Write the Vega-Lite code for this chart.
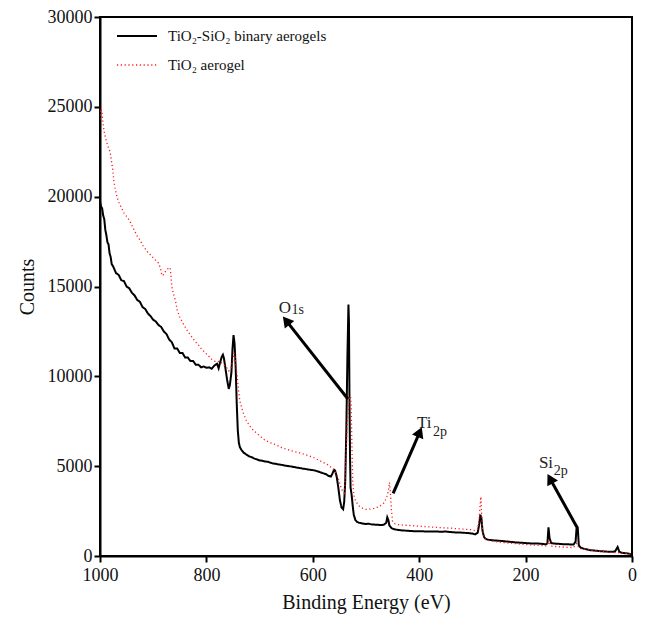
{
  "$schema": "https://vega.github.io/schema/vega-lite/v6.json",
  "autosize": {"type": "none"},
  "width": 532,
  "height": 539,
  "padding": {"left": 100, "top": 17, "right": 17, "bottom": 65},
  "background": "white",
  "config": {
    "view": {"stroke": "black", "strokeWidth": 2},
    "font": "Liberation Serif",
    "style": {"guide-label": {"font": "Liberation Serif"}, "guide-title": {"font": "Liberation Serif"}},
    "axis": {
      "grid": false,
      "domainColor": "black",
      "domainWidth": 2,
      "tickColor": "black",
      "tickWidth": 2,
      "tickSize": 6,
      "labelFlush": false,
      "labelFont": "Liberation Serif",
      "labelFontSize": 18,
      "labelColor": "#111",
      "titleFont": "Liberation Serif",
      "titleFontSize": 20,
      "titleFontWeight": "normal",
      "titleColor": "#111"
    }
  },
  "datasets": {
    "spectra": [
      {"energy": 1000, "counts": 19700, "series": "TiO₂-SiO₂ binary aerogels"},
      {"energy": 998, "counts": 19450, "series": "TiO₂-SiO₂ binary aerogels"},
      {"energy": 996, "counts": 19350, "series": "TiO₂-SiO₂ binary aerogels"},
      {"energy": 994, "counts": 18950, "series": "TiO₂-SiO₂ binary aerogels"},
      {"energy": 992, "counts": 18750, "series": "TiO₂-SiO₂ binary aerogels"},
      {"energy": 990, "counts": 18150, "series": "TiO₂-SiO₂ binary aerogels"},
      {"energy": 988, "counts": 17850, "series": "TiO₂-SiO₂ binary aerogels"},
      {"energy": 986, "counts": 17450, "series": "TiO₂-SiO₂ binary aerogels"},
      {"energy": 984, "counts": 17350, "series": "TiO₂-SiO₂ binary aerogels"},
      {"energy": 982, "counts": 16850, "series": "TiO₂-SiO₂ binary aerogels"},
      {"energy": 980, "counts": 16650, "series": "TiO₂-SiO₂ binary aerogels"},
      {"energy": 978, "counts": 16250, "series": "TiO₂-SiO₂ binary aerogels"},
      {"energy": 975, "counts": 16100, "series": "TiO₂-SiO₂ binary aerogels"},
      {"energy": 970, "counts": 15750, "series": "TiO₂-SiO₂ binary aerogels"},
      {"energy": 965, "counts": 15650, "series": "TiO₂-SiO₂ binary aerogels"},
      {"energy": 960, "counts": 15350, "series": "TiO₂-SiO₂ binary aerogels"},
      {"energy": 955, "counts": 15300, "series": "TiO₂-SiO₂ binary aerogels"},
      {"energy": 950, "counts": 15000, "series": "TiO₂-SiO₂ binary aerogels"},
      {"energy": 945, "counts": 14900, "series": "TiO₂-SiO₂ binary aerogels"},
      {"energy": 940, "counts": 14650, "series": "TiO₂-SiO₂ binary aerogels"},
      {"energy": 935, "counts": 14500, "series": "TiO₂-SiO₂ binary aerogels"},
      {"energy": 930, "counts": 14250, "series": "TiO₂-SiO₂ binary aerogels"},
      {"energy": 925, "counts": 14150, "series": "TiO₂-SiO₂ binary aerogels"},
      {"energy": 920, "counts": 13850, "series": "TiO₂-SiO₂ binary aerogels"},
      {"energy": 915, "counts": 13750, "series": "TiO₂-SiO₂ binary aerogels"},
      {"energy": 910, "counts": 13500, "series": "TiO₂-SiO₂ binary aerogels"},
      {"energy": 905, "counts": 13350, "series": "TiO₂-SiO₂ binary aerogels"},
      {"energy": 900, "counts": 13150, "series": "TiO₂-SiO₂ binary aerogels"},
      {"energy": 895, "counts": 13050, "series": "TiO₂-SiO₂ binary aerogels"},
      {"energy": 890, "counts": 12850, "series": "TiO₂-SiO₂ binary aerogels"},
      {"energy": 885, "counts": 12750, "series": "TiO₂-SiO₂ binary aerogels"},
      {"energy": 880, "counts": 12500, "series": "TiO₂-SiO₂ binary aerogels"},
      {"energy": 875, "counts": 12350, "series": "TiO₂-SiO₂ binary aerogels"},
      {"energy": 870, "counts": 12050, "series": "TiO₂-SiO₂ binary aerogels"},
      {"energy": 865, "counts": 11900, "series": "TiO₂-SiO₂ binary aerogels"},
      {"energy": 860, "counts": 11550, "series": "TiO₂-SiO₂ binary aerogels"},
      {"energy": 855, "counts": 11550, "series": "TiO₂-SiO₂ binary aerogels"},
      {"energy": 850, "counts": 11300, "series": "TiO₂-SiO₂ binary aerogels"},
      {"energy": 845, "counts": 11300, "series": "TiO₂-SiO₂ binary aerogels"},
      {"energy": 840, "counts": 11050, "series": "TiO₂-SiO₂ binary aerogels"},
      {"energy": 835, "counts": 11050, "series": "TiO₂-SiO₂ binary aerogels"},
      {"energy": 830, "counts": 10850, "series": "TiO₂-SiO₂ binary aerogels"},
      {"energy": 825, "counts": 10850, "series": "TiO₂-SiO₂ binary aerogels"},
      {"energy": 820, "counts": 10650, "series": "TiO₂-SiO₂ binary aerogels"},
      {"energy": 815, "counts": 10650, "series": "TiO₂-SiO₂ binary aerogels"},
      {"energy": 810, "counts": 10500, "series": "TiO₂-SiO₂ binary aerogels"},
      {"energy": 805, "counts": 10550, "series": "TiO₂-SiO₂ binary aerogels"},
      {"energy": 800, "counts": 10480, "series": "TiO₂-SiO₂ binary aerogels"},
      {"energy": 795, "counts": 10500, "series": "TiO₂-SiO₂ binary aerogels"},
      {"energy": 790, "counts": 10420, "series": "TiO₂-SiO₂ binary aerogels"},
      {"energy": 785, "counts": 10600, "series": "TiO₂-SiO₂ binary aerogels"},
      {"energy": 780, "counts": 10700, "series": "TiO₂-SiO₂ binary aerogels"},
      {"energy": 777, "counts": 10450, "series": "TiO₂-SiO₂ binary aerogels"},
      {"energy": 774, "counts": 10800, "series": "TiO₂-SiO₂ binary aerogels"},
      {"energy": 771, "counts": 11100, "series": "TiO₂-SiO₂ binary aerogels"},
      {"energy": 769, "counts": 11200, "series": "TiO₂-SiO₂ binary aerogels"},
      {"energy": 767, "counts": 11000, "series": "TiO₂-SiO₂ binary aerogels"},
      {"energy": 764, "counts": 10400, "series": "TiO₂-SiO₂ binary aerogels"},
      {"energy": 761, "counts": 9800, "series": "TiO₂-SiO₂ binary aerogels"},
      {"energy": 758, "counts": 9300, "series": "TiO₂-SiO₂ binary aerogels"},
      {"energy": 756, "counts": 9500, "series": "TiO₂-SiO₂ binary aerogels"},
      {"energy": 753, "counts": 10200, "series": "TiO₂-SiO₂ binary aerogels"},
      {"energy": 751, "counts": 11500, "series": "TiO₂-SiO₂ binary aerogels"},
      {"energy": 749, "counts": 12300, "series": "TiO₂-SiO₂ binary aerogels"},
      {"energy": 747, "counts": 11800, "series": "TiO₂-SiO₂ binary aerogels"},
      {"energy": 745, "counts": 10500, "series": "TiO₂-SiO₂ binary aerogels"},
      {"energy": 743, "counts": 8500, "series": "TiO₂-SiO₂ binary aerogels"},
      {"energy": 741, "counts": 7000, "series": "TiO₂-SiO₂ binary aerogels"},
      {"energy": 739, "counts": 6300, "series": "TiO₂-SiO₂ binary aerogels"},
      {"energy": 737, "counts": 6050, "series": "TiO₂-SiO₂ binary aerogels"},
      {"energy": 734, "counts": 5900, "series": "TiO₂-SiO₂ binary aerogels"},
      {"energy": 730, "counts": 5750, "series": "TiO₂-SiO₂ binary aerogels"},
      {"energy": 725, "counts": 5650, "series": "TiO₂-SiO₂ binary aerogels"},
      {"energy": 720, "counts": 5550, "series": "TiO₂-SiO₂ binary aerogels"},
      {"energy": 715, "counts": 5500, "series": "TiO₂-SiO₂ binary aerogels"},
      {"energy": 710, "counts": 5420, "series": "TiO₂-SiO₂ binary aerogels"},
      {"energy": 705, "counts": 5380, "series": "TiO₂-SiO₂ binary aerogels"},
      {"energy": 700, "counts": 5320, "series": "TiO₂-SiO₂ binary aerogels"},
      {"energy": 695, "counts": 5300, "series": "TiO₂-SiO₂ binary aerogels"},
      {"energy": 690, "counts": 5260, "series": "TiO₂-SiO₂ binary aerogels"},
      {"energy": 685, "counts": 5250, "series": "TiO₂-SiO₂ binary aerogels"},
      {"energy": 680, "counts": 5200, "series": "TiO₂-SiO₂ binary aerogels"},
      {"energy": 675, "counts": 5150, "series": "TiO₂-SiO₂ binary aerogels"},
      {"energy": 670, "counts": 5130, "series": "TiO₂-SiO₂ binary aerogels"},
      {"energy": 665, "counts": 5100, "series": "TiO₂-SiO₂ binary aerogels"},
      {"energy": 660, "counts": 5080, "series": "TiO₂-SiO₂ binary aerogels"},
      {"energy": 655, "counts": 5050, "series": "TiO₂-SiO₂ binary aerogels"},
      {"energy": 650, "counts": 5020, "series": "TiO₂-SiO₂ binary aerogels"},
      {"energy": 645, "counts": 5000, "series": "TiO₂-SiO₂ binary aerogels"},
      {"energy": 640, "counts": 4980, "series": "TiO₂-SiO₂ binary aerogels"},
      {"energy": 635, "counts": 4950, "series": "TiO₂-SiO₂ binary aerogels"},
      {"energy": 630, "counts": 4920, "series": "TiO₂-SiO₂ binary aerogels"},
      {"energy": 625, "counts": 4900, "series": "TiO₂-SiO₂ binary aerogels"},
      {"energy": 620, "counts": 4870, "series": "TiO₂-SiO₂ binary aerogels"},
      {"energy": 615, "counts": 4850, "series": "TiO₂-SiO₂ binary aerogels"},
      {"energy": 610, "counts": 4820, "series": "TiO₂-SiO₂ binary aerogels"},
      {"energy": 605, "counts": 4800, "series": "TiO₂-SiO₂ binary aerogels"},
      {"energy": 600, "counts": 4780, "series": "TiO₂-SiO₂ binary aerogels"},
      {"energy": 595, "counts": 4750, "series": "TiO₂-SiO₂ binary aerogels"},
      {"energy": 590, "counts": 4700, "series": "TiO₂-SiO₂ binary aerogels"},
      {"energy": 585, "counts": 4650, "series": "TiO₂-SiO₂ binary aerogels"},
      {"energy": 580, "counts": 4600, "series": "TiO₂-SiO₂ binary aerogels"},
      {"energy": 575, "counts": 4550, "series": "TiO₂-SiO₂ binary aerogels"},
      {"energy": 570, "counts": 4450, "series": "TiO₂-SiO₂ binary aerogels"},
      {"energy": 566, "counts": 4420, "series": "TiO₂-SiO₂ binary aerogels"},
      {"energy": 563, "counts": 4600, "series": "TiO₂-SiO₂ binary aerogels"},
      {"energy": 560, "counts": 4800, "series": "TiO₂-SiO₂ binary aerogels"},
      {"energy": 558, "counts": 4750, "series": "TiO₂-SiO₂ binary aerogels"},
      {"energy": 555, "counts": 4400, "series": "TiO₂-SiO₂ binary aerogels"},
      {"energy": 552, "counts": 3800, "series": "TiO₂-SiO₂ binary aerogels"},
      {"energy": 549, "counts": 3100, "series": "TiO₂-SiO₂ binary aerogels"},
      {"energy": 546, "counts": 2700, "series": "TiO₂-SiO₂ binary aerogels"},
      {"energy": 543, "counts": 2600, "series": "TiO₂-SiO₂ binary aerogels"},
      {"energy": 541, "counts": 3000, "series": "TiO₂-SiO₂ binary aerogels"},
      {"energy": 539, "counts": 4200, "series": "TiO₂-SiO₂ binary aerogels"},
      {"energy": 537, "counts": 7000, "series": "TiO₂-SiO₂ binary aerogels"},
      {"energy": 535, "counts": 11000, "series": "TiO₂-SiO₂ binary aerogels"},
      {"energy": 533, "counts": 14000, "series": "TiO₂-SiO₂ binary aerogels"},
      {"energy": 532, "counts": 13000, "series": "TiO₂-SiO₂ binary aerogels"},
      {"energy": 531, "counts": 8500, "series": "TiO₂-SiO₂ binary aerogels"},
      {"energy": 530, "counts": 5500, "series": "TiO₂-SiO₂ binary aerogels"},
      {"energy": 529, "counts": 3800, "series": "TiO₂-SiO₂ binary aerogels"},
      {"energy": 527, "counts": 3400, "series": "TiO₂-SiO₂ binary aerogels"},
      {"energy": 525, "counts": 2800, "series": "TiO₂-SiO₂ binary aerogels"},
      {"energy": 523, "counts": 2300, "series": "TiO₂-SiO₂ binary aerogels"},
      {"energy": 520, "counts": 2000, "series": "TiO₂-SiO₂ binary aerogels"},
      {"energy": 517, "counts": 1900, "series": "TiO₂-SiO₂ binary aerogels"},
      {"energy": 513, "counts": 1850, "series": "TiO₂-SiO₂ binary aerogels"},
      {"energy": 505, "counts": 1800, "series": "TiO₂-SiO₂ binary aerogels"},
      {"energy": 500, "counts": 1780, "series": "TiO₂-SiO₂ binary aerogels"},
      {"energy": 495, "counts": 1800, "series": "TiO₂-SiO₂ binary aerogels"},
      {"energy": 490, "counts": 1760, "series": "TiO₂-SiO₂ binary aerogels"},
      {"energy": 485, "counts": 1750, "series": "TiO₂-SiO₂ binary aerogels"},
      {"energy": 480, "counts": 1740, "series": "TiO₂-SiO₂ binary aerogels"},
      {"energy": 475, "counts": 1730, "series": "TiO₂-SiO₂ binary aerogels"},
      {"energy": 470, "counts": 1720, "series": "TiO₂-SiO₂ binary aerogels"},
      {"energy": 466, "counts": 1750, "series": "TiO₂-SiO₂ binary aerogels"},
      {"energy": 462, "counts": 1850, "series": "TiO₂-SiO₂ binary aerogels"},
      {"energy": 460, "counts": 2150, "series": "TiO₂-SiO₂ binary aerogels"},
      {"energy": 458, "counts": 2000, "series": "TiO₂-SiO₂ binary aerogels"},
      {"energy": 456, "counts": 1700, "series": "TiO₂-SiO₂ binary aerogels"},
      {"energy": 452, "counts": 1550, "series": "TiO₂-SiO₂ binary aerogels"},
      {"energy": 448, "counts": 1500, "series": "TiO₂-SiO₂ binary aerogels"},
      {"energy": 440, "counts": 1450, "series": "TiO₂-SiO₂ binary aerogels"},
      {"energy": 430, "counts": 1420, "series": "TiO₂-SiO₂ binary aerogels"},
      {"energy": 420, "counts": 1400, "series": "TiO₂-SiO₂ binary aerogels"},
      {"energy": 410, "counts": 1380, "series": "TiO₂-SiO₂ binary aerogels"},
      {"energy": 400, "counts": 1380, "series": "TiO₂-SiO₂ binary aerogels"},
      {"energy": 390, "counts": 1370, "series": "TiO₂-SiO₂ binary aerogels"},
      {"energy": 380, "counts": 1360, "series": "TiO₂-SiO₂ binary aerogels"},
      {"energy": 370, "counts": 1370, "series": "TiO₂-SiO₂ binary aerogels"},
      {"energy": 360, "counts": 1350, "series": "TiO₂-SiO₂ binary aerogels"},
      {"energy": 350, "counts": 1360, "series": "TiO₂-SiO₂ binary aerogels"},
      {"energy": 340, "counts": 1330, "series": "TiO₂-SiO₂ binary aerogels"},
      {"energy": 330, "counts": 1310, "series": "TiO₂-SiO₂ binary aerogels"},
      {"energy": 320, "counts": 1300, "series": "TiO₂-SiO₂ binary aerogels"},
      {"energy": 310, "counts": 1280, "series": "TiO₂-SiO₂ binary aerogels"},
      {"energy": 300, "counts": 1250, "series": "TiO₂-SiO₂ binary aerogels"},
      {"energy": 295, "counts": 1200, "series": "TiO₂-SiO₂ binary aerogels"},
      {"energy": 290, "counts": 1300, "series": "TiO₂-SiO₂ binary aerogels"},
      {"energy": 287, "counts": 1800, "series": "TiO₂-SiO₂ binary aerogels"},
      {"energy": 285, "counts": 2300, "series": "TiO₂-SiO₂ binary aerogels"},
      {"energy": 283, "counts": 2100, "series": "TiO₂-SiO₂ binary aerogels"},
      {"energy": 281, "counts": 1400, "series": "TiO₂-SiO₂ binary aerogels"},
      {"energy": 278, "counts": 1050, "series": "TiO₂-SiO₂ binary aerogels"},
      {"energy": 275, "counts": 950, "series": "TiO₂-SiO₂ binary aerogels"},
      {"energy": 270, "counts": 900, "series": "TiO₂-SiO₂ binary aerogels"},
      {"energy": 260, "counts": 870, "series": "TiO₂-SiO₂ binary aerogels"},
      {"energy": 250, "counts": 850, "series": "TiO₂-SiO₂ binary aerogels"},
      {"energy": 240, "counts": 820, "series": "TiO₂-SiO₂ binary aerogels"},
      {"energy": 230, "counts": 790, "series": "TiO₂-SiO₂ binary aerogels"},
      {"energy": 220, "counts": 760, "series": "TiO₂-SiO₂ binary aerogels"},
      {"energy": 210, "counts": 740, "series": "TiO₂-SiO₂ binary aerogels"},
      {"energy": 200, "counts": 720, "series": "TiO₂-SiO₂ binary aerogels"},
      {"energy": 190, "counts": 700, "series": "TiO₂-SiO₂ binary aerogels"},
      {"energy": 180, "counts": 700, "series": "TiO₂-SiO₂ binary aerogels"},
      {"energy": 170, "counts": 680, "series": "TiO₂-SiO₂ binary aerogels"},
      {"energy": 162, "counts": 650, "series": "TiO₂-SiO₂ binary aerogels"},
      {"energy": 159, "counts": 700, "series": "TiO₂-SiO₂ binary aerogels"},
      {"energy": 157, "counts": 1600, "series": "TiO₂-SiO₂ binary aerogels"},
      {"energy": 155, "counts": 1000, "series": "TiO₂-SiO₂ binary aerogels"},
      {"energy": 152, "counts": 720, "series": "TiO₂-SiO₂ binary aerogels"},
      {"energy": 148, "counts": 700, "series": "TiO₂-SiO₂ binary aerogels"},
      {"energy": 140, "counts": 680, "series": "TiO₂-SiO₂ binary aerogels"},
      {"energy": 130, "counts": 660, "series": "TiO₂-SiO₂ binary aerogels"},
      {"energy": 120, "counts": 650, "series": "TiO₂-SiO₂ binary aerogels"},
      {"energy": 110, "counts": 640, "series": "TiO₂-SiO₂ binary aerogels"},
      {"energy": 106, "counts": 800, "series": "TiO₂-SiO₂ binary aerogels"},
      {"energy": 104, "counts": 1650, "series": "TiO₂-SiO₂ binary aerogels"},
      {"energy": 102, "counts": 1600, "series": "TiO₂-SiO₂ binary aerogels"},
      {"energy": 100, "counts": 600, "series": "TiO₂-SiO₂ binary aerogels"},
      {"energy": 96, "counts": 450, "series": "TiO₂-SiO₂ binary aerogels"},
      {"energy": 90, "counts": 400, "series": "TiO₂-SiO₂ binary aerogels"},
      {"energy": 80, "counts": 330, "series": "TiO₂-SiO₂ binary aerogels"},
      {"energy": 70, "counts": 300, "series": "TiO₂-SiO₂ binary aerogels"},
      {"energy": 60, "counts": 270, "series": "TiO₂-SiO₂ binary aerogels"},
      {"energy": 50, "counts": 250, "series": "TiO₂-SiO₂ binary aerogels"},
      {"energy": 40, "counts": 230, "series": "TiO₂-SiO₂ binary aerogels"},
      {"energy": 32, "counts": 250, "series": "TiO₂-SiO₂ binary aerogels"},
      {"energy": 29, "counts": 400, "series": "TiO₂-SiO₂ binary aerogels"},
      {"energy": 27, "counts": 500, "series": "TiO₂-SiO₂ binary aerogels"},
      {"energy": 24, "counts": 250, "series": "TiO₂-SiO₂ binary aerogels"},
      {"energy": 20, "counts": 180, "series": "TiO₂-SiO₂ binary aerogels"},
      {"energy": 10, "counts": 150, "series": "TiO₂-SiO₂ binary aerogels"},
      {"energy": 0, "counts": 100, "series": "TiO₂-SiO₂ binary aerogels"},

      {"energy": 1000, "counts": 24300, "series": "TiO₂ aerogel"},
      {"energy": 998, "counts": 24900, "series": "TiO₂ aerogel"},
      {"energy": 996, "counts": 24600, "series": "TiO₂ aerogel"},
      {"energy": 994, "counts": 24000, "series": "TiO₂ aerogel"},
      {"energy": 992, "counts": 23600, "series": "TiO₂ aerogel"},
      {"energy": 990, "counts": 23300, "series": "TiO₂ aerogel"},
      {"energy": 987, "counts": 23000, "series": "TiO₂ aerogel"},
      {"energy": 984, "counts": 22700, "series": "TiO₂ aerogel"},
      {"energy": 981, "counts": 22500, "series": "TiO₂ aerogel"},
      {"energy": 978, "counts": 21900, "series": "TiO₂ aerogel"},
      {"energy": 976, "counts": 21500, "series": "TiO₂ aerogel"},
      {"energy": 974, "counts": 20900, "series": "TiO₂ aerogel"},
      {"energy": 972, "counts": 20500, "series": "TiO₂ aerogel"},
      {"energy": 969, "counts": 20100, "series": "TiO₂ aerogel"},
      {"energy": 965, "counts": 19700, "series": "TiO₂ aerogel"},
      {"energy": 960, "counts": 19400, "series": "TiO₂ aerogel"},
      {"energy": 955, "counts": 19100, "series": "TiO₂ aerogel"},
      {"energy": 950, "counts": 18900, "series": "TiO₂ aerogel"},
      {"energy": 945, "counts": 18700, "series": "TiO₂ aerogel"},
      {"energy": 940, "counts": 18400, "series": "TiO₂ aerogel"},
      {"energy": 935, "counts": 18100, "series": "TiO₂ aerogel"},
      {"energy": 930, "counts": 17800, "series": "TiO₂ aerogel"},
      {"energy": 925, "counts": 17600, "series": "TiO₂ aerogel"},
      {"energy": 920, "counts": 17300, "series": "TiO₂ aerogel"},
      {"energy": 915, "counts": 17100, "series": "TiO₂ aerogel"},
      {"energy": 910, "counts": 16900, "series": "TiO₂ aerogel"},
      {"energy": 905, "counts": 16750, "series": "TiO₂ aerogel"},
      {"energy": 900, "counts": 16600, "series": "TiO₂ aerogel"},
      {"energy": 895, "counts": 16450, "series": "TiO₂ aerogel"},
      {"energy": 890, "counts": 16300, "series": "TiO₂ aerogel"},
      {"energy": 886, "counts": 16000, "series": "TiO₂ aerogel"},
      {"energy": 884, "counts": 15650, "series": "TiO₂ aerogel"},
      {"energy": 882, "counts": 15600, "series": "TiO₂ aerogel"},
      {"energy": 878, "counts": 15800, "series": "TiO₂ aerogel"},
      {"energy": 872, "counts": 16000, "series": "TiO₂ aerogel"},
      {"energy": 868, "counts": 16050, "series": "TiO₂ aerogel"},
      {"energy": 865, "counts": 15000, "series": "TiO₂ aerogel"},
      {"energy": 862, "counts": 14600, "series": "TiO₂ aerogel"},
      {"energy": 858, "counts": 14200, "series": "TiO₂ aerogel"},
      {"energy": 855, "counts": 13700, "series": "TiO₂ aerogel"},
      {"energy": 850, "counts": 13300, "series": "TiO₂ aerogel"},
      {"energy": 845, "counts": 13000, "series": "TiO₂ aerogel"},
      {"energy": 840, "counts": 12750, "series": "TiO₂ aerogel"},
      {"energy": 835, "counts": 12500, "series": "TiO₂ aerogel"},
      {"energy": 830, "counts": 12300, "series": "TiO₂ aerogel"},
      {"energy": 825, "counts": 12100, "series": "TiO₂ aerogel"},
      {"energy": 820, "counts": 11900, "series": "TiO₂ aerogel"},
      {"energy": 815, "counts": 11750, "series": "TiO₂ aerogel"},
      {"energy": 810, "counts": 11550, "series": "TiO₂ aerogel"},
      {"energy": 805, "counts": 11400, "series": "TiO₂ aerogel"},
      {"energy": 800, "counts": 11250, "series": "TiO₂ aerogel"},
      {"energy": 795, "counts": 11100, "series": "TiO₂ aerogel"},
      {"energy": 790, "counts": 10950, "series": "TiO₂ aerogel"},
      {"energy": 785, "counts": 10850, "series": "TiO₂ aerogel"},
      {"energy": 780, "counts": 10800, "series": "TiO₂ aerogel"},
      {"energy": 775, "counts": 10850, "series": "TiO₂ aerogel"},
      {"energy": 770, "counts": 10700, "series": "TiO₂ aerogel"},
      {"energy": 766, "counts": 10600, "series": "TiO₂ aerogel"},
      {"energy": 762, "counts": 10500, "series": "TiO₂ aerogel"},
      {"energy": 758, "counts": 10300, "series": "TiO₂ aerogel"},
      {"energy": 754, "counts": 10450, "series": "TiO₂ aerogel"},
      {"energy": 751, "counts": 10800, "series": "TiO₂ aerogel"},
      {"energy": 748, "counts": 11300, "series": "TiO₂ aerogel"},
      {"energy": 746, "counts": 11050, "series": "TiO₂ aerogel"},
      {"energy": 744, "counts": 10500, "series": "TiO₂ aerogel"},
      {"energy": 742, "counts": 10000, "series": "TiO₂ aerogel"},
      {"energy": 740, "counts": 9300, "series": "TiO₂ aerogel"},
      {"energy": 737, "counts": 8600, "series": "TiO₂ aerogel"},
      {"energy": 734, "counts": 8300, "series": "TiO₂ aerogel"},
      {"energy": 730, "counts": 7900, "series": "TiO₂ aerogel"},
      {"energy": 725, "counts": 7550, "series": "TiO₂ aerogel"},
      {"energy": 720, "counts": 7300, "series": "TiO₂ aerogel"},
      {"energy": 715, "counts": 7100, "series": "TiO₂ aerogel"},
      {"energy": 710, "counts": 6950, "series": "TiO₂ aerogel"},
      {"energy": 700, "counts": 6700, "series": "TiO₂ aerogel"},
      {"energy": 690, "counts": 6450, "series": "TiO₂ aerogel"},
      {"energy": 680, "counts": 6300, "series": "TiO₂ aerogel"},
      {"energy": 670, "counts": 6200, "series": "TiO₂ aerogel"},
      {"energy": 660, "counts": 6050, "series": "TiO₂ aerogel"},
      {"energy": 650, "counts": 5950, "series": "TiO₂ aerogel"},
      {"energy": 640, "counts": 5850, "series": "TiO₂ aerogel"},
      {"energy": 630, "counts": 5780, "series": "TiO₂ aerogel"},
      {"energy": 620, "counts": 5700, "series": "TiO₂ aerogel"},
      {"energy": 610, "counts": 5600, "series": "TiO₂ aerogel"},
      {"energy": 600, "counts": 5500, "series": "TiO₂ aerogel"},
      {"energy": 590, "counts": 5350, "series": "TiO₂ aerogel"},
      {"energy": 580, "counts": 5200, "series": "TiO₂ aerogel"},
      {"energy": 570, "counts": 5050, "series": "TiO₂ aerogel"},
      {"energy": 563, "counts": 4850, "series": "TiO₂ aerogel"},
      {"energy": 560, "counts": 4800, "series": "TiO₂ aerogel"},
      {"energy": 556, "counts": 4600, "series": "TiO₂ aerogel"},
      {"energy": 552, "counts": 4300, "series": "TiO₂ aerogel"},
      {"energy": 548, "counts": 3900, "series": "TiO₂ aerogel"},
      {"energy": 544, "counts": 3600, "series": "TiO₂ aerogel"},
      {"energy": 541, "counts": 3500, "series": "TiO₂ aerogel"},
      {"energy": 539, "counts": 4200, "series": "TiO₂ aerogel"},
      {"energy": 537, "counts": 6000, "series": "TiO₂ aerogel"},
      {"energy": 535, "counts": 7500, "series": "TiO₂ aerogel"},
      {"energy": 533, "counts": 8200, "series": "TiO₂ aerogel"},
      {"energy": 531, "counts": 8800, "series": "TiO₂ aerogel"},
      {"energy": 529, "counts": 8900, "series": "TiO₂ aerogel"},
      {"energy": 528, "counts": 8500, "series": "TiO₂ aerogel"},
      {"energy": 527, "counts": 7000, "series": "TiO₂ aerogel"},
      {"energy": 526, "counts": 5500, "series": "TiO₂ aerogel"},
      {"energy": 525, "counts": 4200, "series": "TiO₂ aerogel"},
      {"energy": 523, "counts": 3400, "series": "TiO₂ aerogel"},
      {"energy": 520, "counts": 3100, "series": "TiO₂ aerogel"},
      {"energy": 515, "counts": 2850, "series": "TiO₂ aerogel"},
      {"energy": 510, "counts": 2700, "series": "TiO₂ aerogel"},
      {"energy": 505, "counts": 2650, "series": "TiO₂ aerogel"},
      {"energy": 500, "counts": 2600, "series": "TiO₂ aerogel"},
      {"energy": 495, "counts": 2600, "series": "TiO₂ aerogel"},
      {"energy": 490, "counts": 2620, "series": "TiO₂ aerogel"},
      {"energy": 485, "counts": 2650, "series": "TiO₂ aerogel"},
      {"energy": 480, "counts": 2700, "series": "TiO₂ aerogel"},
      {"energy": 475, "counts": 2750, "series": "TiO₂ aerogel"},
      {"energy": 470, "counts": 2850, "series": "TiO₂ aerogel"},
      {"energy": 465, "counts": 3000, "series": "TiO₂ aerogel"},
      {"energy": 461, "counts": 3300, "series": "TiO₂ aerogel"},
      {"energy": 458, "counts": 3600, "series": "TiO₂ aerogel"},
      {"energy": 456, "counts": 4100, "series": "TiO₂ aerogel"},
      {"energy": 454, "counts": 3500, "series": "TiO₂ aerogel"},
      {"energy": 452, "counts": 2500, "series": "TiO₂ aerogel"},
      {"energy": 450, "counts": 1900, "series": "TiO₂ aerogel"},
      {"energy": 446, "counts": 1800, "series": "TiO₂ aerogel"},
      {"energy": 440, "counts": 1750, "series": "TiO₂ aerogel"},
      {"energy": 430, "counts": 1720, "series": "TiO₂ aerogel"},
      {"energy": 420, "counts": 1700, "series": "TiO₂ aerogel"},
      {"energy": 410, "counts": 1680, "series": "TiO₂ aerogel"},
      {"energy": 400, "counts": 1660, "series": "TiO₂ aerogel"},
      {"energy": 390, "counts": 1640, "series": "TiO₂ aerogel"},
      {"energy": 380, "counts": 1620, "series": "TiO₂ aerogel"},
      {"energy": 370, "counts": 1600, "series": "TiO₂ aerogel"},
      {"energy": 360, "counts": 1580, "series": "TiO₂ aerogel"},
      {"energy": 350, "counts": 1560, "series": "TiO₂ aerogel"},
      {"energy": 340, "counts": 1550, "series": "TiO₂ aerogel"},
      {"energy": 330, "counts": 1520, "series": "TiO₂ aerogel"},
      {"energy": 320, "counts": 1500, "series": "TiO₂ aerogel"},
      {"energy": 310, "counts": 1480, "series": "TiO₂ aerogel"},
      {"energy": 300, "counts": 1460, "series": "TiO₂ aerogel"},
      {"energy": 295, "counts": 1400, "series": "TiO₂ aerogel"},
      {"energy": 290, "counts": 1500, "series": "TiO₂ aerogel"},
      {"energy": 287, "counts": 2200, "series": "TiO₂ aerogel"},
      {"energy": 285, "counts": 3000, "series": "TiO₂ aerogel"},
      {"energy": 284, "counts": 3300, "series": "TiO₂ aerogel"},
      {"energy": 283, "counts": 2500, "series": "TiO₂ aerogel"},
      {"energy": 281, "counts": 1500, "series": "TiO₂ aerogel"},
      {"energy": 278, "counts": 1050, "series": "TiO₂ aerogel"},
      {"energy": 275, "counts": 920, "series": "TiO₂ aerogel"},
      {"energy": 270, "counts": 870, "series": "TiO₂ aerogel"},
      {"energy": 260, "counts": 820, "series": "TiO₂ aerogel"},
      {"energy": 250, "counts": 780, "series": "TiO₂ aerogel"},
      {"energy": 240, "counts": 740, "series": "TiO₂ aerogel"},
      {"energy": 230, "counts": 720, "series": "TiO₂ aerogel"},
      {"energy": 220, "counts": 690, "series": "TiO₂ aerogel"},
      {"energy": 210, "counts": 660, "series": "TiO₂ aerogel"},
      {"energy": 200, "counts": 640, "series": "TiO₂ aerogel"},
      {"energy": 190, "counts": 620, "series": "TiO₂ aerogel"},
      {"energy": 180, "counts": 600, "series": "TiO₂ aerogel"},
      {"energy": 170, "counts": 580, "series": "TiO₂ aerogel"},
      {"energy": 160, "counts": 560, "series": "TiO₂ aerogel"},
      {"energy": 158, "counts": 700, "series": "TiO₂ aerogel"},
      {"energy": 156, "counts": 900, "series": "TiO₂ aerogel"},
      {"energy": 154, "counts": 600, "series": "TiO₂ aerogel"},
      {"energy": 150, "counts": 540, "series": "TiO₂ aerogel"},
      {"energy": 140, "counts": 520, "series": "TiO₂ aerogel"},
      {"energy": 130, "counts": 500, "series": "TiO₂ aerogel"},
      {"energy": 120, "counts": 480, "series": "TiO₂ aerogel"},
      {"energy": 110, "counts": 470, "series": "TiO₂ aerogel"},
      {"energy": 104, "counts": 700, "series": "TiO₂ aerogel"},
      {"energy": 102, "counts": 600, "series": "TiO₂ aerogel"},
      {"energy": 100, "counts": 430, "series": "TiO₂ aerogel"},
      {"energy": 90, "counts": 380, "series": "TiO₂ aerogel"},
      {"energy": 80, "counts": 330, "series": "TiO₂ aerogel"},
      {"energy": 70, "counts": 300, "series": "TiO₂ aerogel"},
      {"energy": 60, "counts": 260, "series": "TiO₂ aerogel"},
      {"energy": 50, "counts": 220, "series": "TiO₂ aerogel"},
      {"energy": 40, "counts": 200, "series": "TiO₂ aerogel"},
      {"energy": 30, "counts": 190, "series": "TiO₂ aerogel"},
      {"energy": 20, "counts": 170, "series": "TiO₂ aerogel"},
      {"energy": 10, "counts": 150, "series": "TiO₂ aerogel"},
      {"energy": 0, "counts": 120, "series": "TiO₂ aerogel"}
    ],
    "arrows": [
      {"peak": "O1s", "tail_e": 534, "tail_c": 8740, "head_e": 650, "head_c": 13100, "heading": 321},
      {"peak": "Ti2p", "tail_e": 449, "tail_c": 3490, "head_e": 399, "head_c": 6900, "heading": 23},
      {"peak": "Si2p", "tail_e": 104, "tail_c": 1630, "head_e": 154, "head_c": 4300, "heading": 331}
    ],
    "labels": [
      {"main": "O", "main_e": 664, "main_c": 13800, "sub": "1s", "sub_e": 640, "sub_c": 13700},
      {"main": "Ti", "main_e": 404, "main_c": 7400, "sub": "2p", "sub_e": 374, "sub_c": 6900},
      {"main": "Si", "main_e": 175, "main_c": 5180, "sub": "2p", "sub_e": 147, "sub_c": 4730}
    ]
  },
  "layer": [
    {
      "data": {"name": "spectra"},
      "mark": {"type": "line", "interpolate": "linear", "clip": true},
      "encoding": {
        "x": {
          "field": "energy",
          "type": "quantitative",
          "title": "Binding Energy (eV)",
          "scale": {"domain": [0, 1000], "reverse": true, "nice": false},
          "axis": {
            "values": [0, 200, 400, 600, 800, 1000],
            "format": "d",
            "labelFlush": false,
            "labelFont": "Liberation Serif",
            "titleFont": "Liberation Serif",
            "labelPadding": 4,
            "titlePadding": 8
          }
        },
        "y": {
          "field": "counts",
          "type": "quantitative",
          "title": "Counts",
          "scale": {"domain": [0, 30000], "nice": false},
          "axis": {
            "values": [0, 5000, 10000, 15000, 20000, 25000, 30000],
            "format": "d",
            "labelFlush": false,
            "labelFont": "Liberation Serif",
            "titleFont": "Liberation Serif",
            "labelPadding": 2,
            "titlePadding": 10
          }
        },
        "color": {
          "field": "series",
          "type": "nominal",
          "scale": {"domain": ["TiO₂-SiO₂ binary aerogels", "TiO₂ aerogel"], "range": ["#000000", "#ff1a1a"]},
          "legend": {
            "title": null,
            "orient": "none",
            "legendX": 16,
            "legendY": -2,
            "labelFont": "Liberation Serif",
            "labelFontSize": 15,
            "labelColor": "#111",
            "symbolType": "stroke",
            "symbolSize": 1600,
            "symbolStrokeWidth": 1.5,
            "rowPadding": -19,
            "labelOffset": 10
          }
        },
        "strokeDash": {
          "field": "series",
          "type": "nominal",
          "scale": {"domain": ["TiO₂-SiO₂ binary aerogels", "TiO₂ aerogel"], "range": [[1, 0], [1.2, 2.6]]},
          "legend": null
        },
        "strokeWidth": {
          "field": "series",
          "type": "nominal",
          "scale": {"domain": ["TiO₂-SiO₂ binary aerogels", "TiO₂ aerogel"], "range": [2, 1.3]},
          "legend": null
        },
        "order": {"field": "energy", "type": "quantitative", "sort": "descending"}
      }
    },
    {
      "data": {"name": "arrows"},
      "mark": {"type": "rule", "color": "black", "strokeWidth": 3},
      "encoding": {
        "x": {"field": "tail_e", "type": "quantitative"},
        "y": {"field": "tail_c", "type": "quantitative"},
        "x2": {"field": "head_e"},
        "y2": {"field": "head_c"}
      }
    },
    {
      "data": {"name": "arrows"},
      "mark": {"type": "point", "shape": "triangle-up", "filled": true, "color": "black", "opacity": 1, "size": 150},
      "encoding": {
        "x": {"field": "head_e", "type": "quantitative"},
        "y": {"field": "head_c", "type": "quantitative"},
        "angle": {"field": "heading", "type": "quantitative", "scale": null}
      }
    },
    {
      "data": {"name": "labels"},
      "mark": {"type": "text", "font": "Liberation Serif", "fontSize": 17, "align": "left", "baseline": "middle", "color": "#222"},
      "encoding": {
        "x": {"field": "main_e", "type": "quantitative"},
        "y": {"field": "main_c", "type": "quantitative"},
        "text": {"field": "main"}
      }
    },
    {
      "data": {"name": "labels"},
      "mark": {"type": "text", "font": "Liberation Serif", "fontSize": 14, "align": "left", "baseline": "middle", "color": "#222"},
      "encoding": {
        "x": {"field": "sub_e", "type": "quantitative"},
        "y": {"field": "sub_c", "type": "quantitative"},
        "text": {"field": "sub"}
      }
    }
  ]
}
